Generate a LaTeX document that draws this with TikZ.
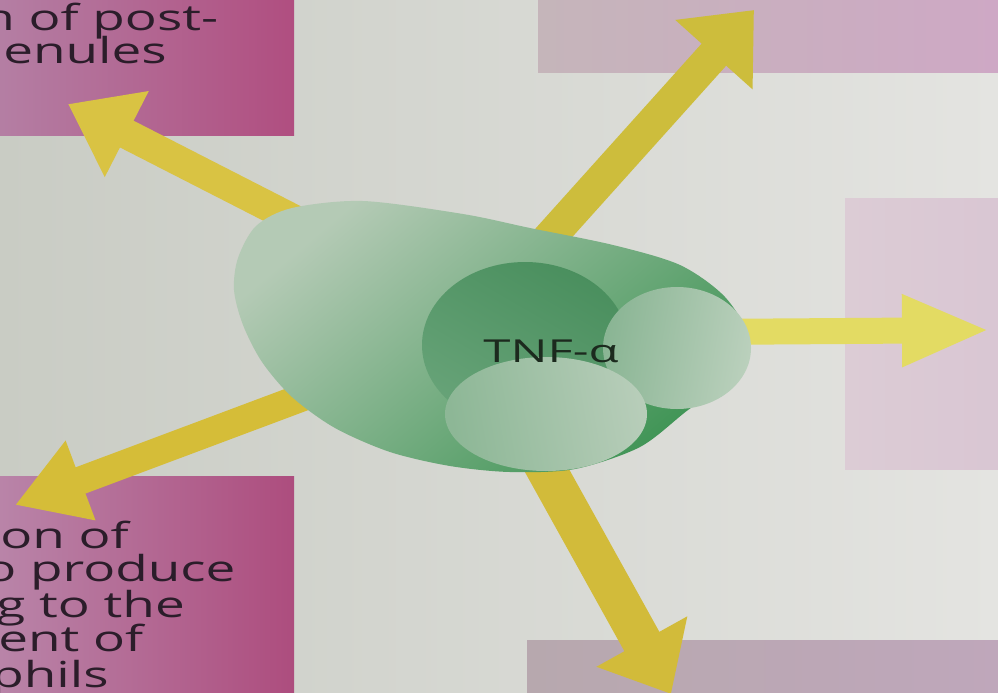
\documentclass[tikz,border=0pt]{standalone}
\usepackage{fontspec}
\usetikzlibrary{arrows.meta}
\newfontfamily\boxfont[FakeStretch=1.48]{Open Sans}
\newfontfamily\labelfont[FakeStretch=1.55]{Open Sans}

\definecolor{bgleft}{HTML}{C9CCC4}
\definecolor{bgmid}{HTML}{DCDED9}
\definecolor{bgright}{HTML}{E4E4E1}
\definecolor{tlL}{HTML}{B47FA4}
\definecolor{tlR}{HTML}{B04E80}
\definecolor{blL}{HTML}{B985A9}
\definecolor{blR}{HTML}{AD4D7E}
\definecolor{trL}{HTML}{C5B5BA}
\definecolor{trR}{HTML}{CEA8C5}
\definecolor{rtL}{HTML}{DCCCD5}
\definecolor{rtR}{HTML}{D9C6D3}
\definecolor{brL}{HTML}{B7A8AE}
\definecolor{brR}{HTML}{BFA7BB}
\definecolor{boxink}{HTML}{2B1D2A}
\definecolor{tnfink}{HTML}{1C2A1E}
\definecolor{arrowA}{HTML}{D9C343}
\definecolor{arrowB}{HTML}{CDBD3C}
\definecolor{arrowC}{HTML}{E3DB63}
\definecolor{arrowD}{HTML}{D5BD38}
\definecolor{arrowE}{HTML}{D2BB3A}
\definecolor{blobhi}{HTML}{B4CAB5}
\definecolor{bloblo}{HTML}{3F9455}
\definecolor{lobeAhi}{HTML}{4A8F5E}
\definecolor{lobeAlo}{HTML}{67A378}
\definecolor{lobeBL}{HTML}{8AB594}
\definecolor{lobeBR}{HTML}{BAD0BC}
\definecolor{lobeCL}{HTML}{8DB796}
\definecolor{lobeCR}{HTML}{B7CDB9}

\begin{document}
\begin{tikzpicture}[x=0.025cm, y=-0.025cm,
  boxtext/.style={anchor=base west, inner sep=0pt, text=boxink,
    font=\boxfont\fontsize{25.5}{28}\selectfont},
  flow/.style={line cap=butt},
  tnflabel/.style={anchor=base, inner sep=0pt, text=tnfink,
    font=\labelfont\fontsize{22.5}{26}\selectfont}]

\useasboundingbox (0,0) rectangle (998,692);

% backdrop
\shade[left color=bgleft, middle color=bgmid, right color=bgright]
  (0,0) rectangle (998,692);

% effect boxes around the cytokine
\shade[left color=tlL, right color=tlR] (-5,-5) rectangle (294,135);
\shade[left color=blL, right color=blR] (-5,476) rectangle (294,697);
\shade[left color=trL, right color=trR] (538,-5) rectangle (1003,72);
\shade[left color=rtL, right color=rtR] (845,198) rectangle (1003,469);
\shade[left color=brL, right color=brR] (527,640) rectangle (1003,697);

% box texts
\begin{scope}
  \clip (0,0) rectangle (294,135);
  \node[boxtext] (tl1) at (-18,30) {n of post-};
  \node[boxtext] (tl2) at (3,63) {enules};
\end{scope}
\begin{scope}
  \clip (0,476) rectangle (294,692);
  \node[boxtext] (bl1) at (0,548) {on of};
  \node[boxtext] (bl2) at (-16,581) {o produce};
  \node[boxtext] (bl3) at (-4,617) {g to the};
  \node[boxtext] (bl4) at (-2,651) {ent of};
  \node[boxtext] (bl5) at (-9,687) {phils};
\end{scope}

% arrow ends
\coordinate (s1) at (330,238);  \coordinate (t1) at (68,104);
\coordinate (s2) at (489,305);  \coordinate (t2) at (754,10);
\coordinate (s3) at (700,332);  \coordinate (t3) at (990,330);
\coordinate (s4) at (330,387);  \coordinate (t4) at (15,505);
\coordinate (s5) at (515,413);  \coordinate (t5) at (671,694);

% radiating arrows
\draw[flow, draw=arrowA, fill=arrowA, line width=0.75cm,
  -{Triangle[length=1.65cm,width=2.3cm]}] (s1) -- (t1);
\draw[flow, draw=arrowB, fill=arrowB, line width=0.825cm,
  -{Triangle[length=1.5cm,width=2.5cm]}] (s2) -- (t2);
\draw[flow, draw=arrowC, fill=arrowC, line width=0.65cm,
  -{Triangle[length=2.2cm,width=1.65cm]}] (s3) -- (t3);
\draw[flow, draw=arrowD, fill=arrowD, line width=0.7cm,
  -{Triangle[length=1.75cm,width=2.0cm]}] (s4) -- (t4);
\draw[flow, draw=arrowE, fill=arrowE, line width=1.0cm,
  -{Triangle[length=1.5cm,width=2.5cm]}] (s5) -- (t5);

% TNF-alpha blob
\shade[top color=blobhi, bottom color=bloblo, shading angle=40]
  plot[smooth cycle] coordinates {
    (238,258) (256,226) (292,208) (363,201) (463,214) (530,228)
    (613,245) (680,265) (725,297) (748,338) (733,378) (688,410)
    (640,447) (575,469) (510,472) (450,466) (390,452) (335,428)
    (292,397) (262,362) (243,325) (234,290)};
\shade[top color=lobeAhi, bottom color=lobeAlo, shading angle=-30]
  (525,345) ellipse [x radius=103, y radius=83];
\shade[left color=lobeBL, right color=lobeBR, shading angle=80]
  (677,348) ellipse [x radius=74, y radius=61];
\shade[left color=lobeCL, right color=lobeCR, shading angle=100]
  (546,414) ellipse [x radius=101, y radius=57];

\node[tnflabel] (tnf) at (551,362) {TNF-α};
\end{tikzpicture}
\end{document}
